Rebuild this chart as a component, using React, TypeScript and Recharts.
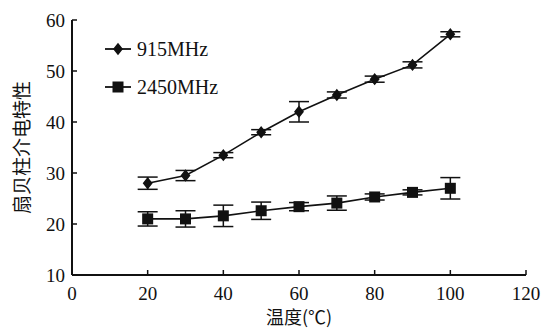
import { LineChart, Line, XAxis, YAxis, ErrorBar, Label } from 'recharts';

const temps = [20, 30, 40, 50, 60, 70, 80, 90, 100];
const v915 = [28.0, 29.5, 33.5, 38.0, 42.0, 45.3, 48.4, 51.2, 57.2];
const err915 = [1.2, 1.0, 0.5, 0.5, 2.0, 0.6, 0.6, 0.6, 0.5];
const v2450 = [21.0, 21.0, 21.6, 22.6, 23.4, 24.1, 25.3, 26.2, 27.0];
const err2450 = [1.4, 1.6, 2.1, 1.7, 0.8, 1.4, 0.6, 0.5, 2.1];
const seriesNames = ['915MHz', '2450MHz'];
const xTicks = [0, 20, 40, 60, 80, 100, 120];
const yTicks = [10, 20, 30, 40, 50, 60];

const serif = '"Liberation Serif", "DejaVu Serif", serif';
const cjk = '"Noto Sans CJK SC", sans-serif';

const chartData = temps.map((t, i) => ({
    t,
    a: v915[i],
    ea: err915[i],
    b: v2450[i],
    eb: err2450[i],
}));

// star-ish diamond used for the 915MHz points
const DiamondDot = (props: any) => {
    const { cx, cy } = props;
    if (cx == null || cy == null) return null;
    const r = 5;
    return (
        <path
            d={`M${cx},${cy - r} L${cx + r * 0.8},${cy} L${cx},${cy + r} L${cx - r * 0.8},${cy} Z`}
            fill="#111"
            stroke="#111"
            strokeWidth={1.5}
        />
    );
};

const SquareDot = (props: any) => {
    const { cx, cy } = props;
    if (cx == null || cy == null) return null;
    const s = 11;
    return <rect x={cx - s / 2} y={cy - s / 2} width={s} height={s} fill="#111" />;
};

// legend drawn over the plot, top-left like the original figure
const LegendBox = () => (
    <svg width={140} height={80} style={{ position: 'absolute', left: 105, top: 38 }}>
        {seriesNames.map((name, i) => {
            const y = 11 + i * 38;
            return (
                <g key={name}>
                    <line x1={0} x2={26} y1={y} y2={y} stroke="#111" strokeWidth={1.8} />
                    {i === 0 ? <DiamondDot cx={13} cy={y} /> : <SquareDot cx={13} cy={y} />}
                    <text x={32} y={y + 7} fontFamily={serif} fontSize={20} fill="#111">
                        {name}
                    </text>
                </g>
            );
        })}
    </svg>
);

export default function App() {
    return (
        <div style={{ position: 'absolute', left: 0, top: 0, width: 542, height: 331, background: '#fff' }}>
            <LineChart
                width={542}
                height={331}
                data={chartData}
                margin={{ top: 20, right: 16, bottom: 0, left: 0 }}
            >
                <XAxis
                    dataKey="t"
                    type="number"
                    domain={[0, 120]}
                    ticks={xTicks}
                    height={56}
                    axisLine={{ stroke: '#111', strokeWidth: 2 }}
                    tickLine={{ stroke: '#111', strokeWidth: 1.5 }}
                    tickSize={-5}
                    tickMargin={17}
                    tick={{ fill: '#111', fontSize: 19, fontFamily: serif }}
                >
                    <Label
                        value="温度(℃)"
                        position="insideBottom"
                        offset={7}
                        style={{ fill: '#111', fontSize: 18, fontFamily: cjk }}
                    />
                </XAxis>
                <YAxis
                    type="number"
                    domain={[10, 60]}
                    ticks={yTicks}
                    width={72}
                    axisLine={{ stroke: '#111', strokeWidth: 2 }}
                    tickLine={{ stroke: '#111', strokeWidth: 1.5 }}
                    tickSize={-5}
                    tickMargin={12}
                    tick={{ fill: '#111', fontSize: 19, fontFamily: serif }}
                >
                    <Label
                        value="扇贝柱介电特性"
                        angle={-90}
                        position="insideLeft"
                        offset={22}
                        style={{ fill: '#111', fontSize: 19, fontFamily: cjk, textAnchor: 'middle' }}
                    />
                </YAxis>
                <Line
                    dataKey="a"
                    name={seriesNames[0]}
                    stroke="#111"
                    strokeWidth={1.6}
                    dot={<DiamondDot />}
                    activeDot={false}
                    isAnimationActive={false}
                >
                    <ErrorBar dataKey="ea" width={10} stroke="#111" strokeWidth={1.5} direction="y" />
                </Line>
                <Line
                    dataKey="b"
                    name={seriesNames[1]}
                    stroke="#111"
                    strokeWidth={1.6}
                    dot={<SquareDot />}
                    activeDot={false}
                    isAnimationActive={false}
                >
                    <ErrorBar dataKey="eb" width={10} stroke="#111" strokeWidth={1.5} direction="y" />
                </Line>
            </LineChart>
            <LegendBox />
        </div>
    );
}
